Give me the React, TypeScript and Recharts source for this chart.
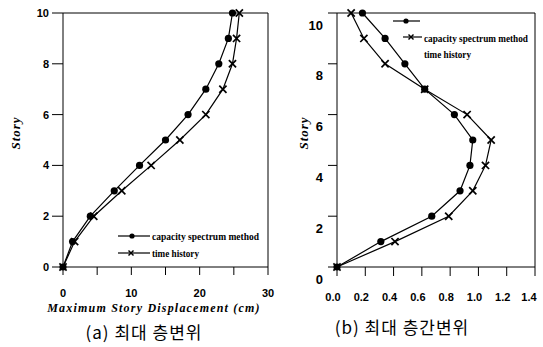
import React from "react";
import { ScatterChart, Scatter, XAxis, YAxis, ReferenceLine } from "recharts";

const stories = [0, 1, 2, 3, 4, 5, 6, 7, 8, 9, 10];

// maximum story displacement (cm)
const dispCsm = [0, 1.4, 4.0, 7.5, 11.2, 15.0, 18.3, 20.9, 22.8, 24.2, 24.8];
const dispTh = [0, 1.7, 4.5, 8.6, 12.9, 17.1, 20.9, 23.4, 24.8, 25.4, 25.8];

// maximum interstory drift
const driftCsm = [0, 0.31, 0.67, 0.87, 0.94, 0.96, 0.83, 0.62, 0.48, 0.34, 0.18];
const driftTh = [0, 0.41, 0.79, 0.96, 1.05, 1.09, 0.92, 0.62, 0.34, 0.19, 0.1];

const storyTicks = [0, 2, 4, 6, 8, 10];
const dispTicks = [0, 5, 10, 15, 20, 25, 30];
const driftTicks = [0, 0.2, 0.4, 0.6, 0.8, 1.0, 1.2, 1.4];

const toPoints = (vals: number[]) => stories.map((s, i) => ({ x: vals[i], y: s }));

const SANS = "'Liberation Sans', Arial, sans-serif";
const SERIF = "'Liberation Serif', 'Times New Roman', serif";
const KR = "'Noto Sans CJK KR', sans-serif";

const Dot = (props: any) => {
  const { cx, cy } = props;
  if (cx == null || cy == null) return null;
  return <circle cx={cx} cy={cy} r={3.6} fill="#000" />;
};

const Cross = (props: any) => {
  const { cx, cy } = props;
  if (cx == null || cy == null) return null;
  const s = 3.6;
  return (
    <g stroke="#000" strokeWidth={1.7}>
      <line x1={cx - s} y1={cy - s} x2={cx + s} y2={cy + s} />
      <line x1={cx - s} y1={cy + s} x2={cx + s} y2={cy - s} />
    </g>
  );
};

const lineStyle = { stroke: "#000", strokeWidth: 1.2 };

function DisplacementChart() {
  return (
    <ScatterChart width={280} height={314} margin={{ top: 13, right: 12, bottom: 0, left: 0 }}>
      <XAxis
        type="number"
        dataKey="x"
        domain={[0, 30]}
        ticks={dispTicks}
        height={47}
        tickSize={8}
        tickMargin={18}
        stroke="#000"
        tick={(p: any) =>
          p.payload.value % 10 === 0 ? (
            <text x={p.x} y={p.y} textAnchor="middle" dominantBaseline="central" fontFamily={SANS} fontWeight="bold" fontSize={11} fill="#000">
              {p.payload.value}
            </text>
          ) : (
            <g />
          )
        }
      />
      <YAxis
        type="number"
        dataKey="y"
        domain={[0, 10]}
        ticks={storyTicks}
        width={63}
        tickSize={11}
        tickMargin={3}
        stroke="#000"
        tick={(p: any) => (
          <text x={p.x} y={p.y} textAnchor="end" dominantBaseline="central" fontFamily={SANS} fontWeight="bold" fontSize={11} fill="#000">
            {p.payload.value}
          </text>
        )}
      />
      <ReferenceLine y={10} stroke="#000" />
      <ReferenceLine x={30} stroke="#000" />
      <Scatter data={toPoints(dispCsm)} shape={Dot} line={lineStyle} isAnimationActive={false} />
      <Scatter data={toPoints(dispTh)} shape={Cross} line={lineStyle} isAnimationActive={false} />
    </ScatterChart>
  );
}

function DriftChart() {
  return (
    <ScatterChart width={273} height={314} margin={{ top: 13, right: 8, bottom: 0, left: 0 }}>
      <XAxis
        type="number"
        dataKey="x"
        domain={[0, 1.4]}
        ticks={driftTicks}
        height={47}
        tickSize={9}
        tickMargin={21}
        stroke="#000"
        tick={(p: any) => (
          <text x={p.x - 4} y={p.y} textAnchor="middle" dominantBaseline="central" fontFamily={SANS} fontWeight="bold" fontSize={11} fill="#000">
            {Number(p.payload.value).toFixed(1)}
          </text>
        )}
      />
      <YAxis
        type="number"
        dataKey="y"
        domain={[0, 10]}
        ticks={storyTicks}
        width={67}
        tickSize={9}
        tickMargin={5}
        stroke="#000"
        tick={(p: any) => (
          <text x={p.x} y={p.y + 12} textAnchor="end" dominantBaseline="central" fontFamily={SANS} fontWeight="bold" fontSize={13} fill="#000">
            {p.payload.value}
          </text>
        )}
      />
      <ReferenceLine y={10} stroke="#000" />
      <ReferenceLine x={1.4} stroke="#000" />
      <Scatter data={toPoints(driftCsm)} shape={Dot} line={lineStyle} isAnimationActive={false} />
      <Scatter data={toPoints(driftTh)} shape={Cross} line={lineStyle} isAnimationActive={false} />
    </ScatterChart>
  );
}

const LegendCross = ({ x, y }: { x: number; y: number }) => (
  <g stroke="#000" strokeWidth={1.4}>
    <line x1={x - 2.5} y1={y - 2.5} x2={x + 2.5} y2={y + 2.5} />
    <line x1={x - 2.5} y1={y + 2.5} x2={x + 2.5} y2={y - 2.5} />
  </g>
);

const legendText = { fontFamily: SERIF, fontWeight: "bold" as const, fontSize: 11, fill: "#000" };
const titleText = { fontFamily: SERIF, fontWeight: "bold" as const, fontStyle: "italic", fill: "#000" };

export default function App() {
  return (
    <div style={{ position: "absolute", left: 0, top: 0, width: 543, height: 347, background: "#fff" }}>
      <div style={{ position: "absolute", left: 0, top: 0 }}>
        <DisplacementChart />
      </div>
      <div style={{ position: "absolute", left: 270, top: 0 }}>
        <DriftChart />
      </div>
      <svg width={543} height={347} style={{ position: "absolute", left: 0, top: 0, pointerEvents: "none" }}>
        {/* legend, displacement panel */}
        <line x1={118} y1={236} x2={150} y2={236} stroke="#000" strokeWidth={1.2} />
        <circle cx={132} cy={236} r={2.6} fill="#000" />
        <line x1={118} y1={253} x2={150} y2={253} stroke="#000" strokeWidth={1.2} />
        <LegendCross x={131} y={253} />
        <text x={152} y={236} dominantBaseline="central" textLength={107} lengthAdjust="spacingAndGlyphs" {...legendText}>
          capacity spectrum method
        </text>
        <text x={152} y={253} dominantBaseline="central" textLength={47} lengthAdjust="spacingAndGlyphs" {...legendText}>
          time history
        </text>

        {/* legend, drift panel */}
        <line x1={393} y1={21} x2={420} y2={21} stroke="#000" strokeWidth={1.2} />
        <circle cx={406} cy={21} r={2.6} fill="#000" />
        <line x1={403} y1={37} x2={422} y2={37} stroke="#000" strokeWidth={1.2} />
        <LegendCross x={411} y={37} />
        <text x={424} y={38} dominantBaseline="central" textLength={104} lengthAdjust="spacingAndGlyphs" {...legendText} fontSize={10}>
          capacity spectrum method
        </text>
        <text x={424} y={54} dominantBaseline="central" textLength={47} lengthAdjust="spacingAndGlyphs" {...legendText}>
          time history
        </text>

        {/* axis titles */}
        <text x={15} y={133} transform="rotate(-90 15 133)" textAnchor="middle" dominantBaseline="central" fontSize={13} letterSpacing={1} {...titleText}>
          Story
        </text>
        <text x={303} y={133} transform="rotate(-90 303 133)" textAnchor="middle" dominantBaseline="central" fontSize={13} letterSpacing={1} {...titleText}>
          Story
        </text>
        <text x={154} y={308} textAnchor="middle" dominantBaseline="central" fontSize={12} letterSpacing={1.2} {...titleText}>
          Maximum Story Displacement (cm)
        </text>

        {/* panel captions */}
        <text x={144} y={331} textAnchor="middle" dominantBaseline="central" fontFamily={KR} fontSize={17} letterSpacing={1} fill="#000">
          (a) 최대 층변위
        </text>
        <text x={402} y={326} textAnchor="middle" dominantBaseline="central" fontFamily={KR} fontSize={17} letterSpacing={1} fill="#000">
          (b) 최대 층간변위
        </text>
      </svg>
    </div>
  );
}
